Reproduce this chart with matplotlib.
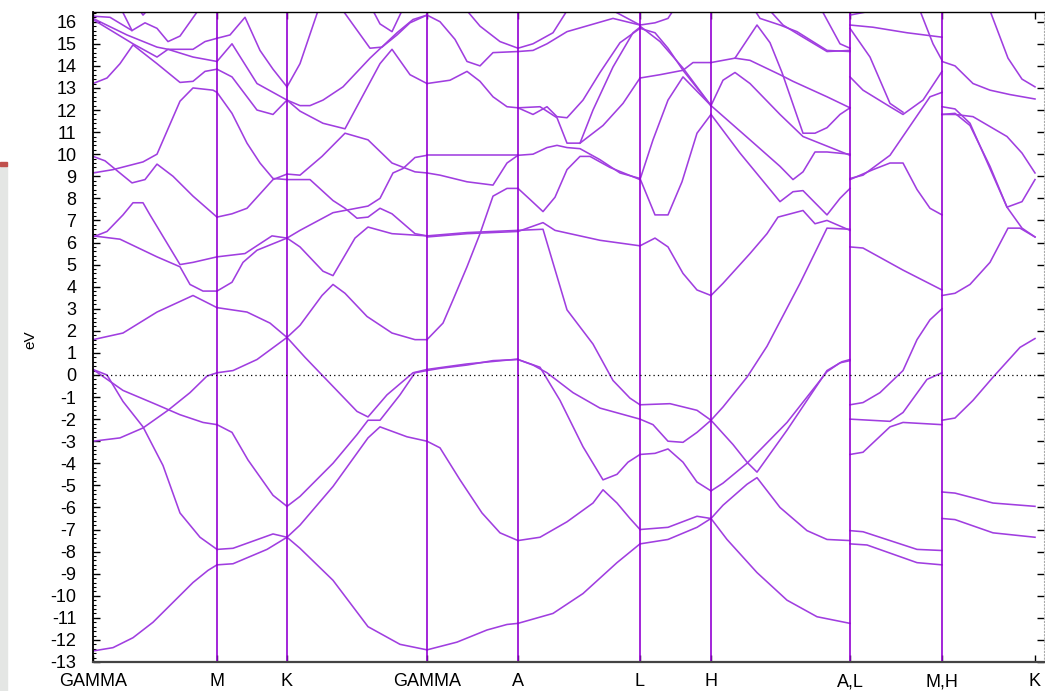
import matplotlib
matplotlib.use("Agg")
import matplotlib.pyplot as plt
from matplotlib.patches import Rectangle
from matplotlib.ticker import MultipleLocator, AutoMinorLocator

plt.rcParams['font.family'] = ['Liberation Sans', 'DejaVu Sans']
plt.rcParams['axes.unicode_minus'] = False

# high-symmetry points along the path
kticks = [0.0, 1.24, 1.94, 3.34, 4.25, 5.47, 6.18, 7.57, 8.49, 9.42]
klabels = ["GAMMA", "M", "K", "GAMMA", "A", "L", "H", "A,L", "M,H", "K"]

# bands, one list per path segment, each band = [(k, E), ...]
gamma_m = [
    [(0, -12.5), (0.2, -12.35), (0.4, -11.9), (0.6, -11.2), (0.8, -10.3), (1.0, -9.4), (1.15, -8.85), (1.24, -8.6)],
    [(0, 0.25), (0.14, 0.0), (0.30, -1.2), (0.50, -2.35), (0.70, -4.1), (0.87, -6.25), (1.07, -7.35), (1.24, -7.9)],
    [(0, 0.25), (0.30, -0.7), (0.64, -1.35), (0.87, -1.8), (1.10, -2.15), (1.24, -2.25)],
    [(0, -3.0), (0.27, -2.85), (0.50, -2.4), (0.75, -1.6), (0.97, -0.8), (1.14, -0.05), (1.24, 0.1)],
    [(0, 1.6), (0.30, 1.9), (0.64, 2.85), (1.00, 3.6), (1.24, 3.05)],
    [(0, 6.3), (0.27, 6.15), (0.64, 5.35), (0.87, 4.9), (0.97, 4.1), (1.10, 3.8), (1.24, 3.8)],
    [(0, 6.25), (0.14, 6.5), (0.30, 7.25), (0.40, 7.8), (0.50, 7.8), (0.57, 7.25), (0.87, 5.0), (1.00, 5.1), (1.24, 5.35)],
    [(0, 9.9), (0.12, 9.7), (0.39, 8.7), (0.52, 8.85), (0.64, 9.55), (0.80, 9.0), (1.00, 8.1), (1.24, 7.15)],
    [(0, 9.15), (0.20, 9.3), (0.50, 9.65), (0.64, 10.0), (0.87, 12.4), (1.00, 13.0), (1.20, 12.9), (1.24, 12.8)],
    [(0, 13.2), (0.14, 13.45), (0.27, 14.1), (0.40, 14.95), (0.64, 14.1), (0.87, 13.25), (1.00, 13.3), (1.12, 13.75), (1.24, 13.85)],
    [(0, 16.15), (0.34, 15.4), (0.64, 14.85), (0.75, 14.75), (1.00, 14.75), (1.12, 15.1), (1.24, 15.25)],
    [(0, 16.1), (0.40, 15.0), (0.64, 14.4), (0.75, 14.75), (1.00, 14.4), (1.24, 14.2)],
    [(0, 16.25), (0.17, 16.2), (0.39, 15.6), (0.52, 15.95), (0.64, 15.7), (0.75, 15.1), (0.87, 15.35), (1.05, 16.5)],
    [(0.29, 16.5), (0.39, 15.6)],
    [(0.47, 16.5), (0.50, 16.3), (0.54, 16.5)],
]

m_k = [
    [(1.24, -8.6), (1.40, -8.55), (1.74, -7.9), (1.94, -7.35)],
    [(1.24, -7.9), (1.40, -7.85), (1.80, -7.2), (1.94, -7.35)],
    [(1.24, -2.25), (1.39, -2.6), (1.55, -3.85), (1.80, -5.45), (1.94, -5.95)],
    [(1.24, 0.1), (1.40, 0.2), (1.64, 0.7), (1.94, 1.7)],
    [(1.24, 3.05), (1.54, 2.85), (1.77, 2.35), (1.94, 1.7)],
    [(1.24, 3.8), (1.39, 4.2), (1.50, 5.1), (1.64, 5.65), (1.94, 6.2)],
    [(1.24, 5.35), (1.52, 5.5), (1.79, 6.3), (1.94, 6.2)],
    [(1.24, 7.15), (1.39, 7.3), (1.54, 7.55), (1.80, 8.85), (1.94, 9.1)],
    [(1.24, 12.8), (1.39, 11.85), (1.54, 10.5), (1.67, 9.6), (1.80, 8.9), (1.94, 8.85)],
    [(1.24, 13.85), (1.39, 13.5), (1.64, 12.0), (1.80, 11.8), (1.94, 12.45)],
    [(1.24, 14.2), (1.39, 15.0), (1.64, 13.2), (1.94, 12.45)],
    [(1.24, 15.25), (1.37, 15.4), (1.52, 16.2), (1.67, 14.7), (1.80, 13.85), (1.94, 13.05)],
]

k_gamma = [
    [(1.94, -7.35), (2.07, -7.85), (2.40, -9.3), (2.75, -11.4), (3.07, -12.2), (3.34, -12.45)],
    [(1.94, -7.35), (2.07, -6.8), (2.40, -5.05), (2.75, -2.85), (2.87, -2.35), (3.14, -2.8), (3.34, -3.0)],
    [(1.94, -5.95), (2.07, -5.5), (2.40, -4.0), (2.64, -2.7), (2.75, -2.05), (2.87, -2.05), (3.07, -0.9), (3.22, 0.1), (3.34, 0.2)],
    [(1.94, 1.7), (2.12, 0.8), (2.64, -1.65), (2.75, -1.9), (2.94, -0.9), (3.20, 0.1), (3.34, 0.25)],
    [(1.94, 1.7), (2.07, 2.25), (2.29, 3.6), (2.40, 4.1), (2.52, 3.7), (2.74, 2.65), (2.99, 1.9), (3.22, 1.6), (3.34, 1.6)],
    [(1.94, 6.2), (2.07, 5.8), (2.30, 4.7), (2.40, 4.5), (2.62, 6.2), (2.75, 6.7), (2.99, 6.4), (3.34, 6.3)],
    [(1.94, 6.2), (2.07, 6.55), (2.40, 7.35), (2.75, 7.65), (2.87, 8.0), (3.00, 9.15), (3.10, 9.35), (3.22, 9.85), (3.34, 9.95)],
    [(1.94, 8.85), (2.17, 8.85), (2.40, 7.9), (2.52, 7.55), (2.64, 7.1), (2.75, 7.15), (2.87, 7.55), (2.99, 7.3), (3.22, 6.4), (3.34, 6.3)],
    [(1.94, 9.1), (2.07, 9.05), (2.29, 9.9), (2.52, 10.95), (2.75, 10.65), (2.99, 9.6), (3.22, 9.2), (3.34, 9.15)],
    [(1.94, 12.45), (2.07, 11.95), (2.30, 11.4), (2.52, 11.15), (2.87, 14.1), (2.99, 14.75), (3.17, 13.6), (3.34, 13.2)],
    [(1.94, 12.45), (2.07, 12.2), (2.17, 12.2), (2.30, 12.45), (2.50, 13.05), (2.77, 14.35), (3.04, 15.5), (3.20, 16.1), (3.34, 16.3)],
    [(2.50, 16.5), (2.77, 14.8), (2.89, 14.85), (3.04, 15.4), (3.17, 15.95), (3.34, 16.3)],
    [(1.94, 13.05), (2.07, 14.1), (2.25, 16.5)],
    [(2.80, 16.5), (2.87, 15.9), (2.99, 15.55), (3.09, 16.5)],
]

gamma_a = [
    [(3.34, -12.45), (3.64, -12.1), (3.94, -11.55), (4.14, -11.3), (4.25, -11.25)],
    [(3.34, -3.0), (3.47, -3.3), (3.67, -4.75), (3.89, -6.25), (4.07, -7.15), (4.25, -7.5)],
    [(3.34, 0.2), (3.47, 0.3), (3.74, 0.45), (4.00, 0.65), (4.25, 0.7)],
    [(3.34, 0.25), (3.74, 0.5), (4.25, 0.72)],
    [(3.34, 1.6), (3.50, 2.35), (3.60, 3.4), (3.74, 4.9), (3.87, 6.4), (4.00, 8.1), (4.14, 8.45), (4.25, 8.45)],
    [(3.34, 6.3), (3.74, 6.45), (4.25, 6.55)],
    [(3.34, 6.25), (3.74, 6.4), (4.25, 6.5)],
    [(3.34, 9.15), (3.47, 9.05), (3.74, 8.75), (4.00, 8.6), (4.14, 9.6), (4.25, 9.95)],
    [(3.34, 9.95), (3.74, 9.95), (4.25, 9.95)],
    [(3.34, 13.2), (3.57, 13.35), (3.74, 13.75), (3.87, 13.3), (4.00, 12.6), (4.14, 12.15), (4.25, 12.1)],
    [(3.34, 16.3), (3.47, 16.0), (3.62, 15.2), (3.74, 14.2), (3.87, 14.0), (4.00, 14.6), (4.25, 14.65)],
    [(3.74, 16.5), (3.87, 15.8), (4.07, 15.1), (4.25, 14.8)],
]

a_l = [
    [(4.25, -11.25), (4.60, -10.8), (4.90, -9.9), (5.24, -8.5), (5.47, -7.65)],
    [(4.25, -7.5), (4.47, -7.35), (4.74, -6.65), (5.00, -5.8), (5.10, -5.2), (5.24, -5.8), (5.37, -6.5), (5.47, -7.0)],
    [(4.25, 0.7), (4.47, 0.35), (4.67, -1.15), (4.90, -3.25), (5.10, -4.75), (5.24, -4.5), (5.35, -3.95), (5.47, -3.6)],
    [(4.25, 0.7), (4.40, 0.45), (4.54, 0.1), (4.80, -0.8), (5.07, -1.5), (5.47, -2.0)],
    [(4.25, 6.55), (4.50, 6.6), (4.74, 2.95), (5.00, 1.4), (5.20, -0.25), (5.37, -1.05), (5.47, -1.35)],
    [(4.25, 6.5), (4.50, 6.9), (4.62, 6.55), (5.07, 6.1), (5.47, 5.85)],
    [(4.25, 8.45), (4.37, 7.95), (4.50, 7.4), (4.62, 8.05), (4.74, 9.3), (4.87, 9.9), (4.97, 9.9), (5.17, 9.4), (5.47, 8.85)],
    [(4.25, 9.95), (4.40, 10.0), (4.54, 10.3), (4.64, 10.4), (4.74, 10.3), (4.87, 10.25), (5.07, 9.75), (5.27, 9.15), (5.47, 8.9)],
    [(4.25, 12.1), (4.40, 11.8), (4.54, 12.15), (4.64, 11.7), (4.74, 11.65), (4.90, 12.45), (5.07, 13.7), (5.27, 15.05), (5.47, 15.7)],
    [(4.25, 12.1), (4.47, 12.15), (4.64, 11.65), (4.74, 10.5), (4.87, 10.5), (5.00, 12.0), (5.20, 13.95), (5.40, 15.5), (5.47, 15.75)],
    [(4.25, 14.65), (4.40, 14.7), (4.54, 15.0), (4.74, 15.55), (5.20, 16.15), (5.47, 15.85)],
    [(4.25, 14.8), (4.40, 15.0), (4.60, 15.5), (4.74, 16.5)],
    [(5.20, 16.5), (5.47, 15.85)],
    [(4.87, 10.5), (5.10, 11.3), (5.30, 12.3), (5.47, 13.45)],
]

l_h = [
    [(5.47, -7.65), (5.75, -7.45), (6.04, -6.9), (6.18, -6.5)],
    [(5.47, -7.0), (5.75, -6.9), (6.04, -6.4), (6.18, -6.5)],
    [(5.47, -3.6), (5.62, -3.55), (5.75, -3.35), (5.90, -3.95), (6.04, -4.85), (6.18, -5.25)],
    [(5.47, -2.0), (5.60, -2.25), (5.75, -3.0), (5.90, -3.05), (6.04, -2.6), (6.18, -2.05)],
    [(5.47, -1.35), (5.77, -1.3), (6.04, -1.6), (6.18, -2.05)],
    [(5.47, 5.85), (5.62, 6.2), (5.75, 5.8), (5.90, 4.6), (6.04, 3.85), (6.18, 3.6)],
    [(5.47, 8.9), (5.62, 7.25), (5.75, 7.25), (5.89, 8.75), (6.04, 10.95), (6.18, 11.8)],
    [(5.47, 8.85), (5.60, 10.65), (5.75, 12.45), (5.90, 13.5), (6.18, 12.2)],
    [(5.47, 13.45), (5.67, 13.6), (5.90, 13.8), (6.00, 14.15), (6.18, 14.15)],
    [(5.47, 15.7), (5.62, 15.5), (5.75, 14.8), (5.90, 13.8), (6.18, 12.2)],
    [(5.47, 15.8), (5.67, 15.1), (5.90, 13.9), (6.18, 12.2)],
    [(5.47, 15.85), (5.62, 15.95), (5.75, 16.15), (5.80, 16.5)],
]

h_a = [
    [(6.18, -6.5), (6.34, -7.45), (6.64, -8.95), (6.94, -10.2), (7.24, -10.95), (7.57, -11.25)],
    [(6.18, -6.5), (6.30, -5.9), (6.54, -4.95), (6.64, -4.65), (6.87, -6.0), (7.14, -7.05), (7.34, -7.45), (7.57, -7.5)],
    [(6.18, -5.25), (6.30, -4.9), (6.54, -4.0), (6.94, -2.15), (7.34, 0.15), (7.47, 0.55), (7.57, 0.65)],
    [(6.18, -2.05), (6.40, -3.15), (6.54, -3.95), (6.64, -4.4), (6.94, -2.5), (7.34, 0.2), (7.49, 0.6), (7.57, 0.7)],
    [(6.18, -2.05), (6.30, -1.45), (6.54, -0.1), (6.74, 1.3), (7.07, 4.15), (7.34, 6.65), (7.57, 6.6)],
    [(6.18, 3.6), (6.30, 4.15), (6.57, 5.5), (6.74, 6.4), (6.85, 7.15), (7.10, 7.45), (7.22, 6.85), (7.34, 7.0), (7.57, 6.55)],
    [(6.18, 11.8), (6.47, 10.05), (6.87, 7.85), (7.00, 8.3), (7.10, 8.35), (7.34, 7.25), (7.47, 8.0), (7.57, 8.45)],
    [(6.18, 12.2), (6.57, 10.65), (6.87, 9.45), (7.00, 8.85), (7.10, 9.2), (7.22, 10.1), (7.34, 10.1), (7.57, 10.0)],
    [(6.18, 12.2), (6.30, 13.35), (6.42, 13.7), (6.57, 13.2), (6.87, 11.8), (7.10, 10.8), (7.57, 9.95)],
    [(6.18, 14.15), (6.42, 14.35), (6.57, 14.25), (6.87, 13.6), (7.00, 13.3), (7.34, 12.6), (7.57, 12.1)],
    [(6.42, 14.35), (6.64, 15.85), (6.77, 15.05), (6.89, 13.7), (7.10, 10.95), (7.22, 10.95), (7.34, 11.2), (7.47, 11.8), (7.57, 12.1)],
    [(6.62, 16.5), (6.67, 16.15), (6.87, 15.85), (7.04, 15.55), (7.34, 14.7), (7.57, 14.65)],
    [(6.77, 16.5), (6.90, 15.85), (7.10, 15.3), (7.34, 14.65), (7.57, 14.7)],
    [(7.29, 16.5), (7.47, 15.0), (7.57, 14.8)],
]

l_m = [
    [(7.57, -7.65), (7.74, -7.7), (8.24, -8.5), (8.49, -8.6)],
    [(7.57, -7.05), (7.70, -7.1), (8.24, -7.9), (8.49, -7.95)],
    [(7.57, -3.6), (7.70, -3.5), (7.97, -2.35), (8.10, -2.15), (8.49, -2.25)],
    [(7.57, -2.0), (7.97, -2.1), (8.10, -1.7), (8.34, -0.2), (8.49, 0.1)],
    [(7.57, -1.35), (7.70, -1.25), (7.87, -0.8), (8.10, 0.2), (8.24, 1.6), (8.37, 2.5), (8.49, 3.0)],
    [(7.57, 5.8), (7.70, 5.75), (8.10, 4.75), (8.49, 3.85)],
    [(7.57, 8.9), (7.70, 9.05), (7.97, 9.95), (8.37, 12.6), (8.49, 12.8)],
    [(7.57, 8.85), (7.80, 9.3), (7.97, 9.6), (8.10, 9.6), (8.24, 8.4), (8.37, 7.55), (8.49, 7.25)],
    [(7.57, 13.5), (7.70, 12.9), (7.97, 12.15), (8.10, 11.8), (8.30, 12.45), (8.49, 13.75)],
    [(7.57, 15.7), (7.77, 14.4), (7.97, 12.3), (8.10, 11.9)],
    [(7.57, 15.85), (7.80, 15.75), (8.14, 15.5), (8.49, 15.3)],
    [(8.27, 16.5), (8.40, 15.0), (8.49, 14.25)],
    [(7.57, 16.3), (7.74, 16.45)],
]

h_k = [
    [(8.49, -6.5), (8.62, -6.55), (9.00, -7.15), (9.42, -7.35)],
    [(8.49, -5.3), (8.62, -5.35), (9.00, -5.8), (9.42, -5.95)],
    [(8.49, -2.05), (8.62, -1.95), (8.80, -1.15), (9.00, -0.1), (9.27, 1.25), (9.42, 1.65)],
    [(8.49, 3.6), (8.62, 3.7), (8.77, 4.1), (8.97, 5.1), (9.15, 6.65), (9.27, 6.65), (9.42, 6.25)],
    [(8.49, 11.8), (8.62, 11.85), (8.77, 11.3), (8.97, 9.45), (9.14, 7.6), (9.29, 6.65), (9.42, 6.25)],
    [(8.49, 11.8), (8.62, 11.8), (8.80, 11.7), (9.14, 10.8), (9.29, 10.05), (9.42, 9.15)],
    [(8.49, 12.15), (8.62, 12.05), (8.77, 11.4), (9.14, 7.6), (9.29, 7.85), (9.42, 8.85)],
    [(8.49, 14.2), (8.62, 14.0), (8.80, 13.2), (8.97, 12.9), (9.17, 12.7), (9.42, 12.5)],
    [(8.97, 16.5), (9.15, 14.35), (9.29, 13.4), (9.42, 13.05)],
]

segments = [gamma_m, m_k, k_gamma, gamma_a, a_l, l_h, h_a, l_m, h_k]

band_color = "#a03ee0"
line_color = "#9400d3"

fig = plt.figure(figsize=(10.45, 6.91), dpi=100)
ax = fig.add_axes([93 / 1045, 29 / 691, 951 / 1045, 650 / 691])

for seg in segments:
    for band in seg:
        ks = [p[0] for p in band]
        es = [p[1] for p in band]
        ax.plot(ks, es, color=band_color, lw=1.15, solid_joinstyle="round")

for k in kticks[1:-1]:
    ax.axvline(k, color=line_color, lw=1.2)

ax.axhline(0, color="black", lw=0.9, ls=(0, (1, 2.5)))

ax.set_xlim(0, 9.51)
ax.set_ylim(-13, 16.44)
ax.set_xticks(kticks)
ax.set_xticklabels(klabels)
ax.yaxis.set_major_locator(MultipleLocator(1))
ax.yaxis.set_minor_locator(AutoMinorLocator(5))

ax.tick_params(axis="x", direction="in", length=5, width=1, top=True, pad=8, labelsize=13)
ax.tick_params(axis="y", which="major", direction="in", length=5, width=1, right=True, pad=12, labelsize=13)
ax.tick_params(axis="y", which="minor", direction="in", length=2.5, width=0.8, right=False)

ax.spines["left"].set_linewidth(1.3)
ax.spines["top"].set_linewidth(1.0)
ax.spines["bottom"].set_linewidth(1.6)
ax.spines["bottom"].set_color("#444444")
ax.spines["right"].set_linestyle((0, (1, 2)))
ax.spines["right"].set_color("#aaaaaa")
ax.spines["right"].set_linewidth(0.8)

fig.text(30 / 1045, 1 - 340 / 691, "eV", rotation=90, ha="center", va="center", fontsize=11)

# screenshot leftovers at the left edge
fig.patches.append(Rectangle((0, 0), 7 / 1045, 525 / 691, transform=fig.transFigure,
                             color="#e4e6e4", zorder=0))
fig.patches.append(Rectangle((0, 525 / 691), 7 / 1045, 4 / 691, transform=fig.transFigure,
                             color="#c0504d", zorder=0))

fig.savefig("out.png", dpi=100)
